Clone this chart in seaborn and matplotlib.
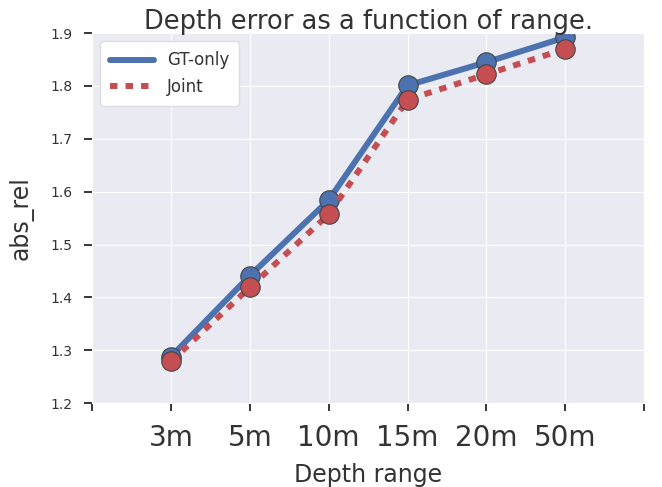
import numpy as np
import matplotlib
matplotlib.use('Agg')
import matplotlib.pyplot as plt
from matplotlib.lines import Line2D
import pandas as pd
import seaborn as sns

# Data
ranges = ['3m', '5m', '10m', '15m', '20m', '50m']
gt_only = [1.288, 1.441, 1.584, 1.801, 1.845, 1.892]
joint = [1.279, 1.419, 1.557, 1.774, 1.822, 1.870]

sns.set_style('darkgrid')

df = pd.DataFrame({'pos': np.arange(1, len(ranges) + 1),
                   'GT-only': gt_only, 'Joint': joint})

blue, red = '#4C72B0', '#C44E52'
lw = 4.3
dots = (1.25, 1.35)

fig, ax = plt.subplots(figsize=(6.62, 4.87), dpi=100)
sns.lineplot(data=df, x='pos', y='GT-only', ax=ax, color=blue, lw=lw,
             marker='o', markersize=14, markeredgecolor='#444444',
             markeredgewidth=0.8, legend=False)
sns.lineplot(data=df, x='pos', y='Joint', ax=ax, color=red, lw=lw,
             marker='o', markersize=14, markeredgecolor='#444444',
             markeredgewidth=0.8, legend=False)
ax.lines[1].set_dashes(dots)

ax.set_xlim(0, 7)
ax.set_ylim(1.2, 1.9)
ax.set_xticks(range(0, 8))
ax.set_xticklabels([''] + ranges + [''], fontsize=20)
ax.set_yticks(np.arange(1.2, 1.91, 0.1))
ax.set_yticklabels([f'{v:.1f}' for v in np.arange(1.2, 1.91, 0.1)], fontsize=10)
ax.tick_params(bottom=True, left=True, direction='out', length=6, width=1.3,
               color='.15', labelcolor='.2')
ax.tick_params(axis='x', pad=9)
ax.tick_params(axis='y', pad=8)
ax.set_xlabel('Depth range', fontsize=17, labelpad=8, color='.2')
ax.set_ylabel('abs_rel', fontsize=17, labelpad=12, color='.2')
ax.set_title('Depth error as a function of range.', fontsize=18.5, pad=3,
             color='.2')

handles = [Line2D([], [], color=blue, lw=lw, solid_capstyle='round'),
           Line2D([], [], color=red, lw=lw, dashes=dots)]
ax.legend(handles, ['GT-only', 'Joint'], loc='upper left', fontsize=12,
          frameon=True, facecolor='white', edgecolor='#dddddd', framealpha=1,
          handlelength=2.6, borderpad=0.6, labelcolor='.2')

plt.subplots_adjust(left=0.139, right=0.973, top=0.932, bottom=0.172)
plt.savefig('out.png', dpi=100)
